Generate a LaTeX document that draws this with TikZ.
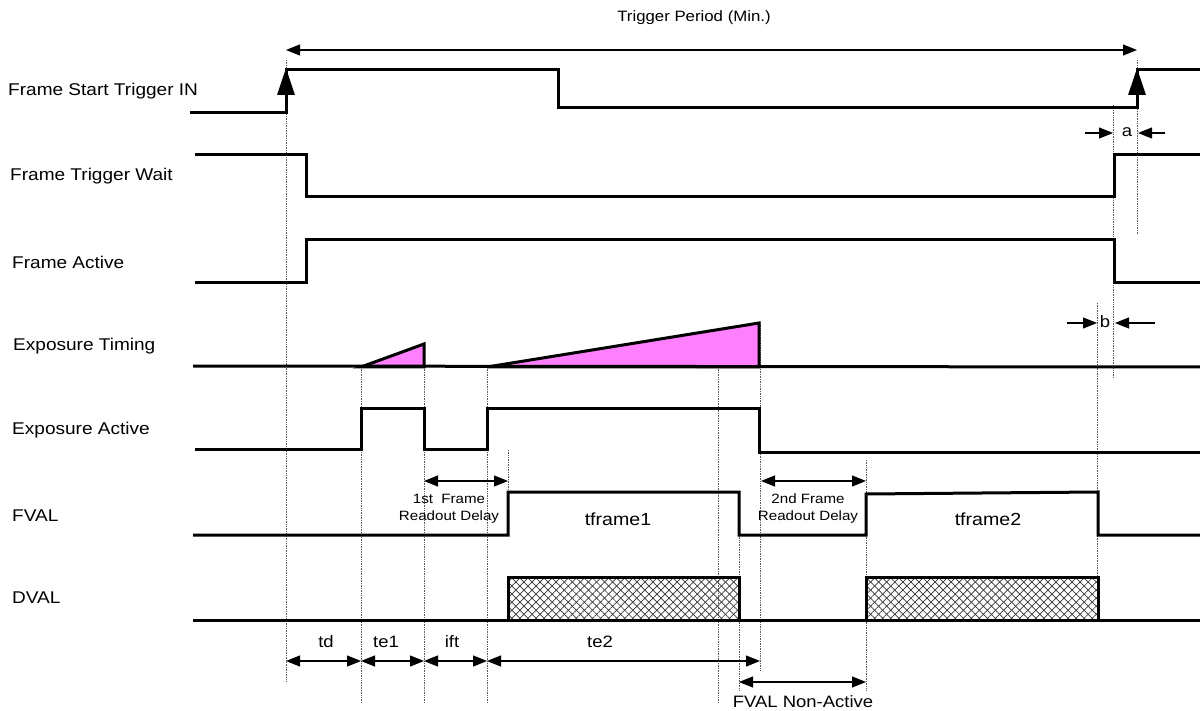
\documentclass[tikz,border=0pt]{standalone}
\usepackage{fontspec}
\setmainfont{Liberation Sans}[FakeStretch=1.12]
\usepackage{xcolor}
\definecolor{expo}{RGB}{255,128,255}
\definecolor{guide}{rgb}{.35,.35,.35}
\usetikzlibrary{arrows.meta, patterns.meta}
\tikzset{
    font={\fontsize{17pt}{20pt}\selectfont},
    sig/.style={line width=3pt, line join=miter},
    trig/.style={line width=3pt, -{Triangle[length=27pt 0 0,width=17pt 0 0]}},
    guideline/.style={guide, densely dotted, line width=.7pt},
    dim/.style={line width=1.1pt, {Triangle[length=14pt,width=11pt]}-{Triangle[length=14pt,width=11pt]}},
    halfdim/.style={line width=1.1pt, -{Triangle[length=14pt,width=11pt]}},
    signame/.style={anchor=west, inner sep=0pt},
    ttl/.style={font={\fontsize{15pt}{18pt}\selectfont}},
    small/.style={align=center, inner sep=0pt, font={\fontsize{13.5pt}{17pt}\selectfont}},
    tfr/.style={font={\fontsize{17.5pt}{20pt}\selectfont}},
    dimlbl/.style={font={\fontsize{16.5pt}{20pt}\selectfont}},
    }

\begin{document}
\begin{tikzpicture}
    [x=1pt, y=-1pt]
    \useasboundingbox (0,0) rectangle (1200,711);
    % guides
    \foreach \x/\ya/\yb in {286/60/682, 1137/60/235, 1113/105/378,
            1097/303/577, 361/367/702, 424/367/702, 487/367/702,
            718/367/702, 760/323/670, 508/450/492, 739/535/690, 866/460/690}
        \draw[guideline] (\x,\ya) -- (\x,\yb);
    % signal names
    \node[signame] (fsti) at (8,91) {Frame Start Trigger IN};
    \node[signame] (ftw) at (10,176) {Frame Trigger Wait};
    \node[signame] (fa) at (12,262) {Frame Active};
    \node[signame] (et) at (13,346) {Exposure Timing};
    \node[signame] (ea) at (12,430) {Exposure Active};
    \node[signame] (fval) at (12,516) {FVAL};
    \node[signame] (dval) at (12,598) {DVAL};
    % signals
    \draw[sig] (190,113) -- (286,113) -- (286,70) -- (558,70) -- (558,108)
        -- (1137,108) -- (1137,70) -- (1200,70);
    \foreach \x in {286,1137}
        \draw[trig] (\x,108) -- (\x,68);
    \draw[sig] (195,155) -- (306,155) -- (306,197) -- (1114,197)
        -- (1114,155) -- (1200,155);
    \draw[sig] (195,283) -- (306,283) -- (306,240) -- (1114,240)
        -- (1114,283) -- (1200,283);
    \filldraw[sig, fill=expo]
        (361,367) -- (424,344) -- (424,367) -- cycle
        (487,367) -- (759,323) -- (759,367) -- cycle;
    \draw[sig] (193,366) -- (1200,367);
    \draw[sig] (195,449) -- (361,449) -- (361,408) -- (424,408) -- (424,449)
        -- (487,449) -- (487,408) -- (759,408) -- (759,452) -- (1200,452);
    \draw[sig] (193,535) -- (508,535) -- (508,492) -- (739,492) -- (739,535)
        -- (866,535) -- (866,494) -- (1098,492) -- (1098,535) -- (1200,535);
    \foreach \xa/\xb in {508/739, 866/1098} {
        \foreach \a in {45,-45}
            \fill[pattern={Lines[angle=\a,distance=5.7pt,line width=.7pt]},
                pattern color=black!80] (\xa,577) rectangle (\xb,620);
        \draw[sig] (\xa,620) rectangle (\xb,577);
    }
    \draw[sig] (193,620) -- (1200,620);
    % dimensions
    \coordinate (tp-l) at (286,50);
    \coordinate (tp-r) at (1137,50);
    \draw[dim] (tp-l) -- (tp-r);
    \node[ttl] (tp) at (694,18) {Trigger Period (Min.)};
    \coordinate (rd1-l) at (424,481);
    \coordinate (rd1-r) at (508,481);
    \draw[dim] (rd1-l) -- (rd1-r);
    \node[small] (rd1) at (449,509) {1st\ \ Frame\\Readout Delay};
    \coordinate (rd2-l) at (761,481);
    \coordinate (rd2-r) at (866,481);
    \draw[dim] (rd2-l) -- (rd2-r);
    \node[small] (rd2) at (808,509) {2nd Frame\\Readout Delay};
    \node[tfr] (tf1) at (618,519) {tframe1};
    \node[tfr] (tf2) at (988,519) {tframe2};
    \foreach \n/\xa/\xb/\xl in {td/286/361/326, te1/361/424/386,
            ift/424/487/452, te2/487/760/600} {
        \coordinate (\n-l) at (\xa,661);
        \coordinate (\n-r) at (\xb,661);
        \draw[dim] (\n-l) -- (\n-r);
        \node[dimlbl] (\n) at (\xl,642) {\n};
    }
    \coordinate (fna-l) at (739,682);
    \coordinate (fna-r) at (866,682);
    \draw[dim] (fna-l) -- (fna-r);
    \node[dimlbl] (fna) at (803,702) {FVAL Non-Active};
    % a, b
    \node[dimlbl] (a) at (1127,132) {a};
    \coordinate (a-l) at (1085,133);
    \coordinate (a-r) at (1165,133);
    \draw[halfdim] (a-l) -- (1113,133);
    \draw[halfdim] (a-r) -- (1138,133);
    \node[dimlbl] (b) at (1105,322) {b};
    \coordinate (b-l) at (1067,323);
    \coordinate (b-r) at (1155,323);
    \draw[halfdim] (b-l) -- (1097,323);
    \draw[halfdim] (b-r) -- (1115,323);
\end{tikzpicture}
\end{document}
